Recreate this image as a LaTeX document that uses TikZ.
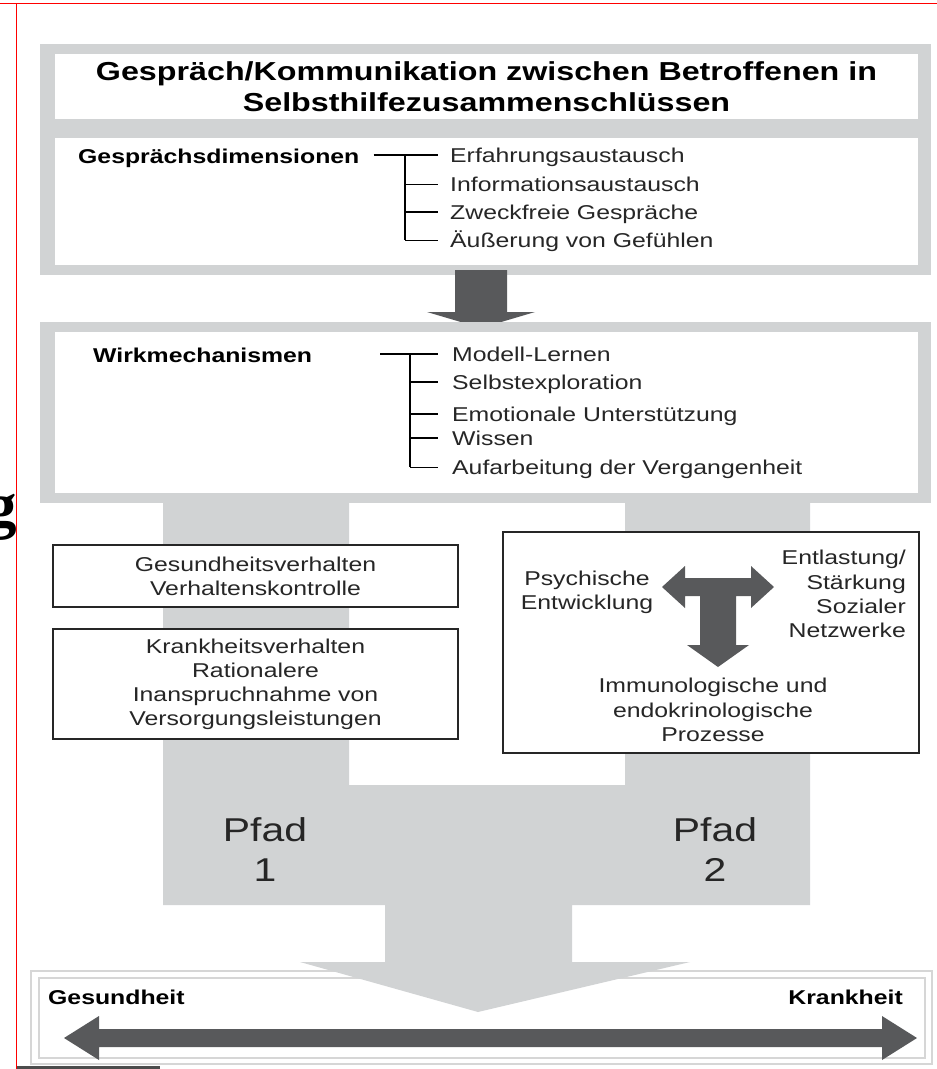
\documentclass[tikz,border=0pt]{standalone}
\usepackage{fontspec}
\setmainfont{Liberation Sans}[FakeStretch=1.24]
\newfontfamily\glyphfont{Liberation Serif}
\usepackage{xcolor}
\usepackage{tikz}
\usetikzlibrary{positioning,calc}
\definecolor{flowgray}{HTML}{D1D3D4}
\definecolor{arrowgray}{HTML}{58595B}
\definecolor{inkgray}{HTML}{262626}
\definecolor{rimgray}{HTML}{D6D6D6}
\tikzset{panel/.style={
  % The shape:
  rectangle, inner sep=0pt,
  % The filling:
  fill=flowgray,
  }
}
\tikzset{whitebox/.style={
  % The shape:
  rectangle, inner sep=0pt, align=center,
  % The filling:
  fill=white,
  % Font:
  font=\fontsize{26}{31}\selectfont\bfseries,
  }
}
\tikzset{pathbox/.style={
  % The shape:
  rectangle, inner sep=0pt, align=center,
  % The border:
  draw=inkgray, line width=1.3pt,
  % The filling:
  fill=white,
  % Font:
  font=\fontsize{20}{24}\selectfont, text=inkgray,
  }
}
\tikzset{item/.style={
  anchor=west, inner sep=0pt,
  text height=17pt, text depth=2pt,
  font=\fontsize{20}{24}\selectfont, text=inkgray,
  }
}

\begin{document}
\begin{tikzpicture}[x=1pt, y=-1pt,
    label/.style={item, text=black, font=\fontsize{20}{24}\selectfont\bfseries},
    plain/.style={inner sep=0pt, align=center, font=\fontsize{20}{24.3}\selectfont, text=inkgray},
    pfad/.style={inner sep=0pt, align=center, font=\fontsize{33}{40}\selectfont, text=inkgray},
    trunk/.style={line width=1.7pt}, twig/.style={line width=0.9pt}]
  \useasboundingbox (0,0) rectangle (937,1069);
  % Screen frame:
  \draw[red, line width=1.3pt] (0,3.5) -- (937,3.5) (16.5,3.5) -- (16.5,1069);
  \fill[black!70] (17,1066) rectangle (160,1069);
  \node[anchor=base east, inner sep=0pt, font=\glyphfont\bfseries\fontsize{63}{63}\selectfont] (cut) at (17,526) {g};

  % Upper panel:
  \node[panel, minimum width=891, minimum height=231] (p1) at (485.5,159.5) {};
  \node[whitebox, minimum width=863, minimum height=65] (title) at (486.5,86.5)
    {Gespräch/Kommunikation zwischen Betroffenen in\\Selbsthilfezusammenschlüssen};
  \node[whitebox, minimum width=863, minimum height=127] (dims) at (486.5,201.5) {};
  \node[label] (gd) at (78,156) {Gesprächsdimensionen};
  \node[item] (e1) at (450,155) {Erfahrungsaustausch};
  \node[item] (e2) at (450,184) {Informationsaustausch};
  \node[item] (e3) at (450,212) {Zweckfreie Gespräche};
  \node[item] (e4) at (450,240) {Äußerung von Gefühlen};
  \coordinate (k1) at (405,0);
  \draw[trunk] ([xshift=14pt]gd.east |- e1.west) -- ([xshift=-12pt]e1.west);
  \draw[trunk] (k1 |- e1.west) -- (k1 |- e4.west);
  \draw[twig]  (k1 |- e2.west) -- ([xshift=-12pt]e2.west);
  \draw[trunk] (k1 |- e3.west) -- ([xshift=-12pt]e3.west);
  \draw[twig]  (k1 |- e4.west) -- ([xshift=-12pt]e4.west);

  % Arrow between the panels:
  \fill[arrowgray] (455,270) -- (507,270) -- (507,312) -- (535,312) -- (481,328)
    -- (427,312) -- (455,312) -- cycle;

  % Lower panel:
  \node[panel, minimum width=891, minimum height=181] (p2) at (485.5,412.5) {};
  \node[whitebox, minimum width=863, minimum height=161] (mech) at (486.5,412.5) {};
  \node[label] (wm) at (93,355) {Wirkmechanismen};
  \node[item] (m1) at (452,354) {Modell-Lernen};
  \node[item] (m2) at (452,382) {Selbstexploration};
  \node[item] (m3) at (452,414) {Emotionale Unterstützung};
  \node[item] (m4) at (452,438) {Wissen};
  \node[item] (m5) at (452,467) {Aufarbeitung der Vergangenheit};
  \coordinate (k2) at (410,0);
  \draw[trunk] (380,0 |- m1.west) -- ([xshift=-14pt]m1.west);
  \draw[trunk] (k2 |- m1.west) -- (k2 |- m5.west);
  \draw[trunk] (k2 |- m2.west) -- ([xshift=-14pt]m2.west);
  \draw[trunk] (k2 |- m3.west) -- ([xshift=-14pt]m3.west);
  \draw[trunk] (k2 |- m4.west) -- ([xshift=-14pt]m4.west);
  \draw[twig]  (k2 |- m5.west) -- ([xshift=-14pt]m5.west);

  % Scale at the bottom:
  \draw[rimgray, line width=1.5pt] (31,971) rectangle (932,1064);
  \draw[rimgray, line width=1.2pt] (39,978) rectangle (925,1058);

  % Both paths and the big arrow:
  \fill[flowgray] (163,503) -- (349,503) -- (349,785) -- (625,785) -- (625,503)
    -- (810,503) -- (810,905) -- (572,905) -- (572,962) -- (690,962) -- (478,1012)
    -- (300,962) -- (385,962) -- (385,905) -- (163,905) -- cycle;

  % Path 1:
  \node[pathbox, minimum width=405, minimum height=62] (gv) at (255.5,576)
    {Gesundheitsverhalten\\Verhaltenskontrolle};
  \node[pathbox, minimum width=405, minimum height=110] (kv) at (255.5,684)
    {Krankheitsverhalten\\Rationalere\\Inanspruchnahme von\\Versorgungsleistungen};
  % Path 2:
  \node[pathbox, minimum width=416, minimum height=221] (pb) at (711,642.5) {};
  \node[plain] (pe) at (587,592) {Psychische\\Entwicklung};
  \node[plain, align=right, anchor=east] (en) at (906,594) {Entlastung/\\Stärkung\\Sozialer\\Netzwerke};
  \node[plain] (ip) at (713,710) {Immunologische und\\endokrinologische\\Prozesse};
  \fill[arrowgray] (662,587) -- (685,566) -- (685,578) -- (751,578) -- (751,566)
    -- (774,587) -- (751,608) -- (751,596) -- (736,596) -- (736,645) -- (749,645)
    -- (718,667) -- (687,645) -- (700,645) -- (700,596) -- (685,596) -- (685,608) -- cycle;

  \node[pfad] (pf1) at (265,850) {Pfad\\1};
  \node[pfad] (pf2) at (715,850) {Pfad\\2};

  \node[label] (gs) at (48,997) {Gesundheit};
  \node[label, anchor=east] (kr) at (903,997) {Krankheit};
  \coordinate (hl) at (64,1038);
  \coordinate (hr) at (917,1038);
  \fill[arrowgray] (hl) -- ++(35,-22) -- ++(0,13) -- ($(hr)+(-35,-9)$) -- ++(0,-13)
    -- (hr) -- ++(-35,22) -- ++(0,-13) -- ($(hl)+(35,9)$) -- ++(0,13) -- cycle;
\end{tikzpicture}
\end{document}
